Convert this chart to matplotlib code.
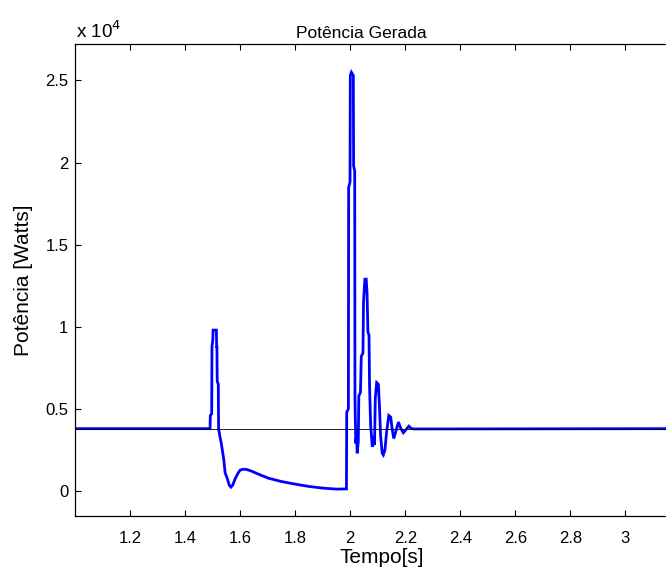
import matplotlib
matplotlib.use("Agg")
import matplotlib.pyplot as plt
import numpy as np

plt.rcParams['font.family'] = ['Liberation Sans', 'DejaVu Sans']

# Time [s] and generated power [W]
t = [1.000, 1.490, 1.491, 1.496, 1.497, 1.500, 1.501, 1.513, 1.514, 1.515, 1.516,
     1.520, 1.521, 1.526, 1.531, 1.540, 1.545, 1.552, 1.560, 1.566, 1.572, 1.582,
     1.592, 1.600, 1.612, 1.624, 1.640, 1.655, 1.680, 1.703, 1.750, 1.800, 1.850,
     1.900, 1.950, 1.986,
     1.987, 1.993, 1.994, 1.999, 2.000, 2.004, 2.011, 2.012, 2.016, 2.017, 2.020,
     2.023, 2.025, 2.029, 2.031, 2.037, 2.040, 2.046, 2.048, 2.053, 2.058, 2.061,
     2.064, 2.068, 2.070, 2.074, 2.080, 2.085, 2.088, 2.091, 2.096, 2.102, 2.106,
     2.110, 2.116, 2.120, 2.126, 2.132, 2.140, 2.147, 2.152, 2.158, 2.165, 2.175,
     2.184, 2.193, 2.203, 2.213, 2.222, 2.235, 3.200]
p = [3800, 3800, 4600, 4700, 8800, 9200, 9800, 9800, 8800, 8800, 6700,
     6500, 3800, 3300, 2900, 1900, 1100, 800, 350, 240, 350, 770,
     1100, 1280, 1330, 1310, 1220, 1110, 930, 780, 580, 420, 280,
     180, 120, 130,
     4800, 5000, 18500, 18800, 25300, 25500, 25300, 19800, 19500, 5600, 2900,
     3500, 2300, 3000, 5800, 6000, 8200, 8400, 11500, 12900, 12900, 12000,
     9700, 9500, 6400, 4000, 2700, 3300, 2800, 5700, 6600, 6500, 5200,
     3400, 2300, 2200, 2500, 3600, 4600, 4500, 3800, 3200, 3600, 4200,
     3800, 3550, 3750, 3950, 3800, 3780, 3800]

ref_t = [1.0, 3.2]
ref_p = [3800, 3800]

xticks = [1.2, 1.4, 1.6, 1.8, 2.0, 2.2, 2.4, 2.6, 2.8, 3.0]
xticklabels = ['1.2', '1.4', '1.6', '1.8', '2', '2.2', '2.4', '2.6', '2.8', '3']
yticks = [0, 5000, 10000, 15000, 20000, 25000]
yticklabels = ['0', '0.5', '1', '1.5', '2', '2.5']

W, H = 666, 571
fig = plt.figure(figsize=(W / 100, H / 100), dpi=100)
left, right, top, bottom = 75.3, 680.3, 44.3, 515.7
ax = fig.add_axes([left / W, 1 - bottom / H, (right - left) / W, (bottom - top) / H])

ax.plot(t, p, color=(0, 0, 1), lw=2.0, solid_joinstyle='miter')
ax.plot(ref_t, ref_p, color='black', lw=0.6)

ax.set_xlim(1.0, 3.2)
ax.set_ylim(-1500, 27200)
ax.set_xticks(xticks)
ax.set_xticklabels(xticklabels)
ax.set_yticks(yticks)
ax.set_yticklabels(yticklabels)

ax.tick_params(axis='both', direction='in', length=4, width=0.8, labelsize=12,
               top=True, right=True, colors='black')
ax.tick_params(axis='x', pad=11)
ax.tick_params(axis='y', pad=5)
for s in ax.spines.values():
    s.set_linewidth(0.9)
    s.set_color('black')

ax.set_xlabel('Tempo[s]', fontsize=15)
ax.xaxis.set_label_coords(0.507, -0.068)
ax.set_ylabel('Potência [Watts]', fontsize=15)
ax.yaxis.set_label_coords(-0.07, 0.5)

fig.text(361 / W, 1 - 33 / H, 'Potência Gerada', fontsize=12.5, ha='center', va='center')
fig.text(76 / W, 1 - 31 / H, r'x 10$^{4}$', fontsize=13.5, ha='left', va='center')

fig.savefig('out.png', dpi=100)
